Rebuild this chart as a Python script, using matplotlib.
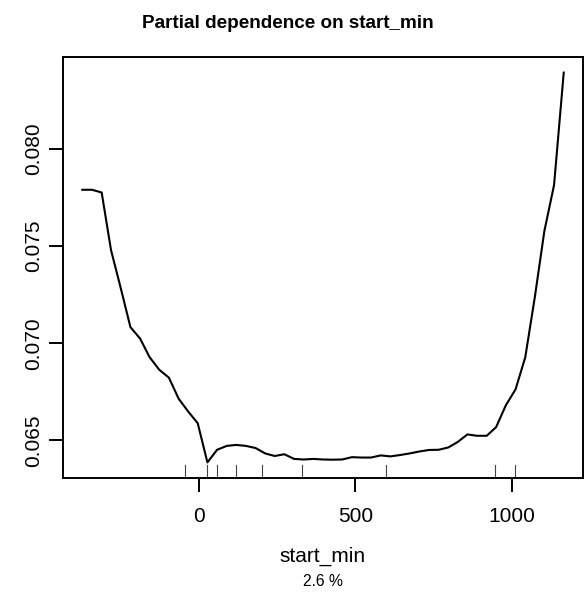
import matplotlib
matplotlib.use("Agg")
import matplotlib.pyplot as plt

plt.rcParams['font.family'] = ['Liberation Sans', 'DejaVu Sans']

start_min = [-373, -342, -311, -281, -250, -219, -188, -158, -127, -96, -65, -35, -4,
             27, 58, 89, 119, 150, 181, 212, 242, 273, 304, 335, 366, 396, 427, 458,
             489, 520, 550, 581, 612, 643, 673, 704, 735, 766, 797, 827, 858, 889,
             920, 950, 981, 1012, 1043, 1074, 1104, 1135, 1166]
partial_dep = [0.07790, 0.07790, 0.07776, 0.07479, 0.07284, 0.07083, 0.07024, 0.06929,
               0.06864, 0.06823, 0.06715, 0.06650, 0.06589, 0.06387, 0.06452, 0.06472,
               0.06477, 0.06472, 0.06461, 0.06433, 0.06420, 0.06429, 0.06405, 0.06402,
               0.06405, 0.06402, 0.06401, 0.06402, 0.06414, 0.06412, 0.06412, 0.06423,
               0.06418, 0.06425, 0.06433, 0.06443, 0.06451, 0.06452, 0.06464, 0.06492,
               0.06531, 0.06524, 0.06524, 0.06569, 0.06681, 0.06763, 0.06928, 0.07242,
               0.07577, 0.07814, 0.08393]
rug_deciles = [-45, 25, 58, 118, 202, 328, 598, 945, 1011]
x_ticks = [0, 500, 1000]
y_ticks = [0.065, 0.070, 0.075, 0.080]
y_ticklabels = ["0.065", "0.070", "0.075", "0.080"]
title = "Partial dependence on start_min"
xlabel = "start_min"
subnote = "2.6 %"

W, H = 588, 595
fig = plt.figure(figsize=(W / 100, H / 100), dpi=100)
ax = fig.add_axes([63 / W, 1 - 478 / H, 520 / W, 421 / H])

ax.plot(start_min, partial_dep, color='black', lw=1.5, solid_joinstyle='round')

xmin, xmax = min(start_min), max(start_min)
ymin, ymax = min(partial_dep), max(partial_dep)
dx, dy = 0.04 * (xmax - xmin), 0.04 * (ymax - ymin)
ax.set_xlim(xmin - dx, xmax + dx)
ax.set_ylim(ymin - dy, ymax + dy)

# rug
for r in rug_deciles:
    ax.plot([r, r], [0, 0.03], transform=ax.get_xaxis_transform(),
            color='#444444', lw=0.8, clip_on=False)

ax.set_xticks(x_ticks)
ax.set_xticklabels([str(v) for v in x_ticks])
ax.set_yticks(y_ticks)
ax.set_yticklabels(y_ticklabels)
ax.tick_params(axis='both', length=10, width=1.4, labelsize=15, color='black')
ax.tick_params(axis='x', pad=11)
ax.tick_params(axis='y', pad=4.5)
for t in ax.get_yticklabels():
    t.set_rotation(90)
    t.set_va('center')

for s in ax.spines.values():
    s.set_linewidth(1.4)

fig.text(287.5 / W, 1 - 23 / H, title, ha='center', va='center',
         fontsize=13.6, fontweight='bold')
fig.text((63 + 583) / 2 / W, 1 - 556 / H, xlabel, ha='center', va='center', fontsize=15)
fig.text((63 + 583) / 2 / W, 1 - 582 / H, subnote, ha='center', va='center', fontsize=11.3)

fig.savefig("out.png", dpi=100)
